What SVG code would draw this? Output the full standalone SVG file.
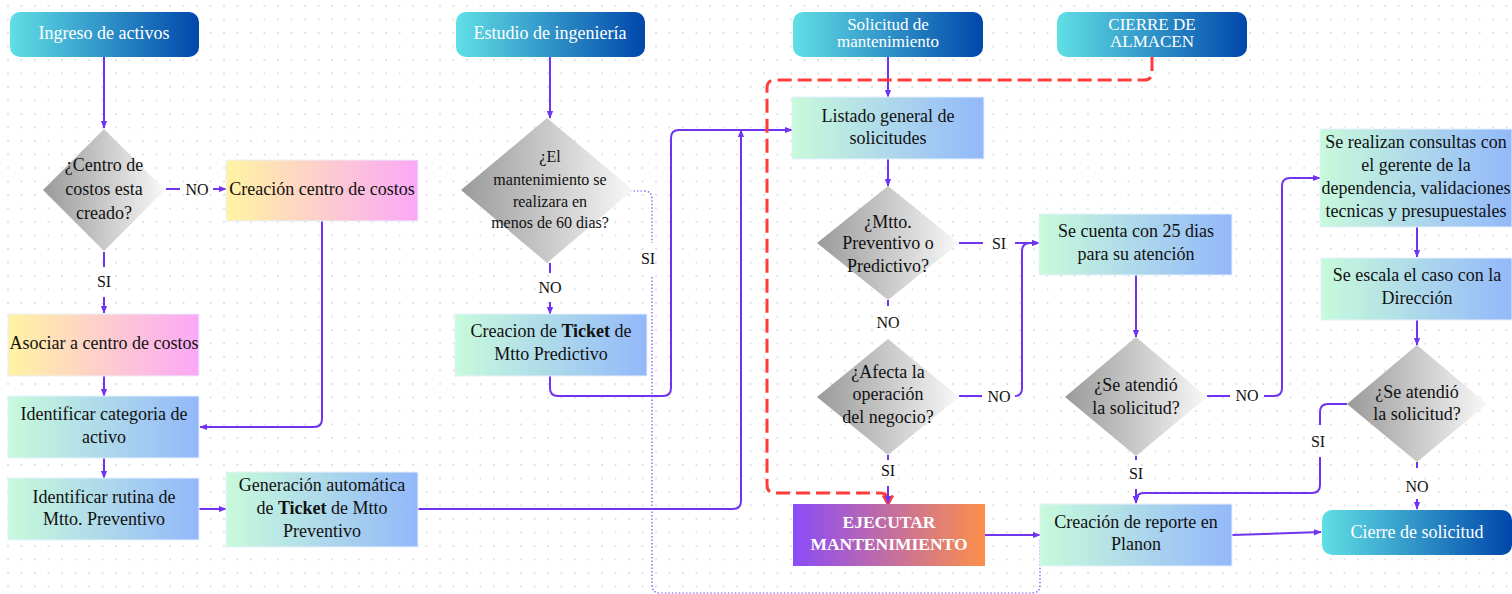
<svg xmlns="http://www.w3.org/2000/svg" width="1512" height="594" viewBox="0 0 1512 594">
<defs>
<pattern id="grid" x="7" y="5" width="13.5" height="13.5" patternUnits="userSpaceOnUse"><circle cx="1" cy="1" r="1" fill="#d9d9d9"/></pattern>
<linearGradient id="gT" x1="0" y1="0" x2="1" y2="0"><stop offset="0" stop-color="#60dfe5"/><stop offset="1" stop-color="#0047ab"/></linearGradient>
<linearGradient id="gD" x1="0" y1="0" x2="1" y2="0"><stop offset="0" stop-color="#9a9a9a"/><stop offset="1" stop-color="#f8f8f8"/></linearGradient>
<linearGradient id="gB" x1="0" y1="0" x2="1" y2="0"><stop offset="0" stop-color="#c8fadb"/><stop offset="1" stop-color="#93b8fa"/></linearGradient>
<linearGradient id="gY" x1="0" y1="0" x2="1" y2="0"><stop offset="0" stop-color="#fff3a2"/><stop offset="1" stop-color="#fba8f7"/></linearGradient>
<linearGradient id="gE" x1="0" y1="0" x2="1" y2="0"><stop offset="0" stop-color="#8a4cf8"/><stop offset="1" stop-color="#fc8f4a"/></linearGradient>
<marker id="a" viewBox="0 0 10 10" refX="9" refY="5" markerWidth="8" markerHeight="8" markerUnits="userSpaceOnUse" orient="auto"><path d="M0,1 L10,5 L0,9 z" fill="#7033f0"/></marker>
<marker id="r" viewBox="0 0 12 12" refX="10" refY="6" markerWidth="13" markerHeight="13" markerUnits="userSpaceOnUse" orient="auto"><path d="M2,1.5 L10,6 L2,10.5" fill="none" stroke="#ff3c3c" stroke-width="2.6"/></marker>
<style>
.t{font-family:"Liberation Serif","Times New Roman",serif;font-size:18px;fill:#111;text-anchor:middle}
.w{fill:#fff}
.s{font-size:16px}
.h{font-size:17px}
.b{font-weight:bold}
.c{fill:none;stroke:#7033f0;stroke-width:2}
.dt{fill:none;stroke:#7b4af0;stroke-width:1.2;stroke-dasharray:1.5 2}
.red{fill:none;stroke:#ff3c3c;stroke-width:3;stroke-dasharray:14 6}
.bx{stroke:#e8f0ff;stroke-width:1}
</style>
</defs>
<rect width="1512" height="594" fill="#ffffff"/>
<rect width="1512" height="594" fill="url(#grid)"/>

<g id="connectors">
<path class="c" d="M104,57 V128" marker-end="url(#a)"/>
<path class="c" d="M166,189 H180"/>
<path class="c" d="M213,189 H226" marker-end="url(#a)"/>
<path class="c" d="M104,252 V267"/>
<path class="c" d="M104,297 V313" marker-end="url(#a)"/>
<path class="c" d="M322,221 V419 Q322,427 314,427 H200" marker-end="url(#a)"/>
<path class="c" d="M104,376 V396" marker-end="url(#a)"/>
<path class="c" d="M104,458 V478" marker-end="url(#a)"/>
<path class="c" d="M199,509 H226" marker-end="url(#a)"/>
<path class="c" d="M418,509 H733 Q741,509 741,501 V130" marker-end="url(#a)"/>
<path class="c" d="M550,57 V118" marker-end="url(#a)"/>
<path class="c" d="M550,263 V273"/>
<path class="c" d="M550,302 V314" marker-end="url(#a)"/>
<path class="c" d="M550,376 V388 Q550,396 558,396 H663 Q671,396 671,388 V138 Q671,130 679,130 H792" marker-end="url(#a)"/>
<path class="dt" d="M623,191 H644 Q652,191 652,199 V243"/>
<path class="dt" d="M652,277 V585 Q652,593 660,593 H1032 Q1040,593 1040,585 V540"/>
<path class="c" d="M888,57 V97" marker-end="url(#a)"/>
<path class="red" d="M1152,57 V72 Q1152,80 1144,80 H775 Q767,80 767,88 V485 Q767,493 775,493 H880 Q888,493 888,501 V504" marker-end="url(#r)"/>
<path class="c" d="M888,159 V186" marker-end="url(#a)"/>
<path class="c" d="M959,243 H983"/>
<path class="c" d="M1015,243 H1039" marker-end="url(#a)"/>
<path class="c" d="M888,300 V306"/>
<path class="c" d="M959,396 H982"/>
<path class="c" d="M1015,396 Q1022,396 1022,388 V251 Q1022,243 1030,243 H1039" marker-end="url(#a)"/>
<path class="c" d="M888,455 V460"/>
<path class="c" d="M888,486 V503" marker-end="url(#a)"/>
<path class="c" d="M985,535 H1040" marker-end="url(#a)"/>
<path class="c" d="M1136,275 V337" marker-end="url(#a)"/>
<path class="c" d="M1136,456 V460"/>
<path class="c" d="M1136,489 V503" marker-end="url(#a)"/>
<path class="c" d="M1207,396 H1230"/>
<path class="c" d="M1264,396 H1274 Q1282,396 1282,388 V186 Q1282,178 1290,178 H1320" marker-end="url(#a)"/>
<path class="c" d="M1417,227 V257" marker-end="url(#a)"/>
<path class="c" d="M1417,320 V345" marker-end="url(#a)"/>
<path class="c" d="M1347,404 H1328 Q1320,404 1320,412 V425"/>
<path class="c" d="M1320,457 V485 Q1320,493 1312,493 H1144 Q1136,493 1136,501 V503" marker-end="url(#a)"/>
<path class="c" d="M1417,462 V468"/>
<path class="c" d="M1417,499 V509" marker-end="url(#a)"/>
<path class="c" d="M1232,535 L1321,532" marker-end="url(#a)"/>
<text class="t s" x="197" y="195">NO</text>
<text class="t s" x="104" y="287">SI</text>
<text class="t s" x="550" y="293">NO</text>
<text class="t s" x="648" y="264">SI</text>
<text class="t s" x="999" y="249">SI</text>
<text class="t s" x="888" y="328">NO</text>
<text class="t s" x="999" y="402">NO</text>
<text class="t s" x="888" y="476">SI</text>
<text class="t s" x="1136" y="479">SI</text>
<text class="t s" x="1247" y="401">NO</text>
<text class="t s" x="1318" y="447">SI</text>
<text class="t s" x="1417" y="492">NO</text>
</g>

<g id="ingreso">
<rect x="10" y="12" width="189" height="45" rx="10" fill="url(#gT)"/>
<text class="t w" x="104" y="39">Ingreso de activos</text>
</g>
<g id="centro-creado">
<polygon points="104,129 165,190 104,251 43,190" fill="url(#gD)"/>
<text class="t" x="104" y="171">¿Centro de</text>
<text class="t" x="104" y="195">costos esta</text>
<text class="t" x="104" y="219">creado?</text>
</g>
<g id="creacion-centro">
<rect class="bx" x="226" y="160" width="192" height="61" fill="url(#gY)"/>
<text class="t" x="322" y="195">Creación centro de costos</text>
</g>
<g id="asociar">
<rect class="bx" x="8" y="314" width="191" height="62" fill="url(#gY)"/>
<text class="t" x="104" y="349">Asociar a centro de costos</text>
</g>
<g id="categoria">
<rect class="bx" x="8" y="396" width="191" height="62" fill="url(#gB)"/>
<text class="t" x="104" y="420">Identificar categoria de</text>
<text class="t" x="104" y="443">activo</text>
</g>
<g id="rutina">
<rect class="bx" x="8" y="478" width="191" height="62" fill="url(#gB)"/>
<text class="t" x="104" y="503">Identificar rutina de</text>
<text class="t" x="104" y="525">Mtto. Preventivo</text>
</g>
<g id="generacion">
<rect class="bx" x="226" y="472" width="192" height="75" fill="url(#gB)"/>
<text class="t" x="322" y="491">Generación automática</text>
<text class="t" x="322" y="514">de <tspan class="b">Ticket</tspan> de Mtto</text>
<text class="t" x="322" y="537">Preventivo</text>
</g>
<g id="estudio">
<rect x="456" y="12" width="189" height="45" rx="10" fill="url(#gT)"/>
<text class="t w" x="550" y="39">Estudio de ingeniería</text>
</g>
<g id="sesenta-dias">
<polygon points="547,118 633,190 547,263 461,190" fill="url(#gD)"/>
<text class="t s" x="550" y="162">¿El</text>
<text class="t s" x="550" y="185">mantenimiento se</text>
<text class="t s" x="550" y="207">realizara en</text>
<text class="t s" x="550" y="228">menos de 60 dias?</text>
</g>
<g id="ticket-predictivo">
<rect class="bx" x="455" y="314" width="192" height="62" fill="url(#gB)"/>
<text class="t" x="551" y="337">Creacion de <tspan class="b">Ticket</tspan> de</text>
<text class="t" x="551" y="360">Mtto Predictivo</text>
</g>
<g id="solicitud">
<rect x="793" y="12" width="190" height="45" rx="10" fill="url(#gT)"/>
<text class="t w h" x="888" y="30">Solicitud de</text>
<text class="t w h" x="888" y="47">mantenimiento</text>
</g>
<g id="cierre-almacen">
<rect x="1057" y="12" width="190" height="45" rx="10" fill="url(#gT)"/>
<text class="t w h" x="1152" y="30">CIERRE DE</text>
<text class="t w h" x="1152" y="47">ALMACEN</text>
</g>
<g id="listado">
<rect class="bx" x="792" y="97" width="192" height="62" fill="url(#gB)"/>
<text class="t" x="888" y="122">Listado general de</text>
<text class="t" x="888" y="144">solicitudes</text>
</g>
<g id="preventivo-predictivo">
<polygon points="888,186 959,243 888,300 817,243" fill="url(#gD)"/>
<text class="t" x="888" y="228">¿Mtto.</text>
<text class="t" x="888" y="249">Preventivo o</text>
<text class="t" x="888" y="272">Predictivo?</text>
</g>
<g id="afecta">
<polygon points="888,339 959,397 888,455 817,397" fill="url(#gD)"/>
<text class="t" x="888" y="378">¿Afecta la</text>
<text class="t" x="888" y="400">operación</text>
<text class="t" x="888" y="423">del negocio?</text>
</g>
<g id="ejecutar">
<rect x="793" y="504" width="192" height="62" fill="url(#gE)"/>
<text class="t w b" x="889" y="528" style="font-size:17.5px">EJECUTAR</text>
<text class="t w b" x="889" y="550" style="font-size:17.5px">MANTENIMIENTO</text>
</g>
<g id="veinticinco-dias">
<rect class="bx" x="1039" y="214" width="193" height="61" fill="url(#gB)"/>
<text class="t" x="1136" y="237">Se cuenta con 25 dias</text>
<text class="t" x="1136" y="260">para su atención</text>
</g>
<g id="se-atendio-1">
<polygon points="1136,337 1207,397 1136,456 1065,397" fill="url(#gD)"/>
<text class="t" x="1136" y="391">¿Se atendió</text>
<text class="t" x="1136" y="414">la solicitud?</text>
</g>
<g id="reporte">
<rect class="bx" x="1040" y="504" width="192" height="62" fill="url(#gB)"/>
<text class="t" x="1136" y="528">Creación de reporte en</text>
<text class="t" x="1136" y="550">Planon</text>
</g>
<g id="consultas">
<rect class="bx" x="1320" y="129" width="192" height="98" fill="url(#gB)"/>
<text class="t" x="1416" y="148">Se realizan consultas con</text>
<text class="t" x="1416" y="171">el gerente de la</text>
<text class="t" x="1416" y="194">dependencia, validaciones</text>
<text class="t" x="1416" y="217">tecnicas y presupuestales</text>
</g>
<g id="escala">
<rect class="bx" x="1321" y="258" width="191" height="62" fill="url(#gB)"/>
<text class="t" x="1417" y="281">Se escala el caso con la</text>
<text class="t" x="1417" y="304">Dirección</text>
</g>
<g id="se-atendio-2">
<polygon points="1417,345 1487,404 1417,462 1347,404" fill="url(#gD)"/>
<text class="t" x="1417" y="398">¿Se atendió</text>
<text class="t" x="1417" y="420">la solicitud?</text>
</g>
<g id="cierre-solicitud">
<rect x="1322" y="510" width="190" height="45" rx="10" fill="url(#gT)"/>
<text class="t w" x="1417" y="538">Cierre de solicitud</text>
</g>
</svg>
